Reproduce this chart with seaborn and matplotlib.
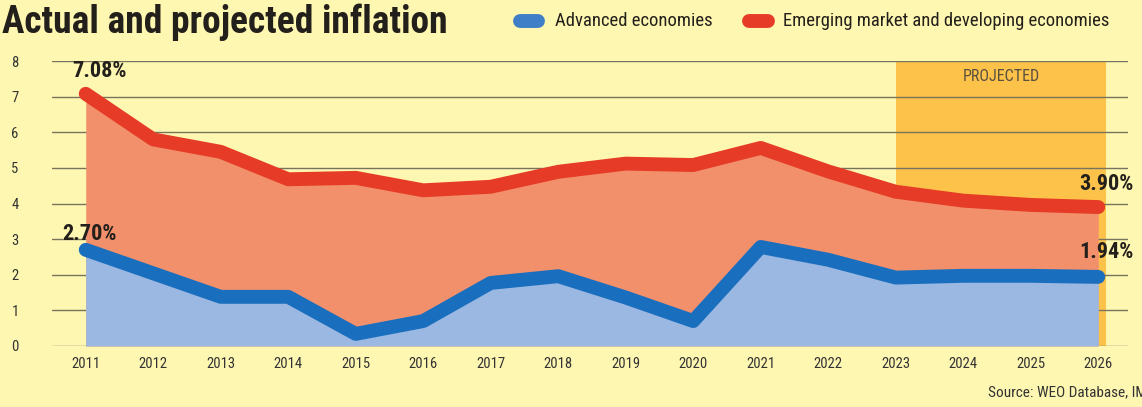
import matplotlib
matplotlib.use("Agg")
import matplotlib.pyplot as plt
import matplotlib.font_manager as fm
from matplotlib.lines import Line2D
import seaborn as sns
import pandas as pd

years = [2011, 2012, 2013, 2014, 2015, 2016, 2017, 2018, 2019, 2020,
         2021, 2022, 2023, 2024, 2025, 2026]
emde = [7.08, 5.80, 5.45, 4.68, 4.72, 4.37, 4.47, 4.89, 5.12, 5.08,
        5.56, 4.90, 4.33, 4.08, 3.96, 3.90]
advanced = [2.70, 2.04, 1.38, 1.38, 0.34, 0.70, 1.77, 1.96, 1.36, 0.70,
            2.78, 2.42, 1.92, 1.97, 1.97, 1.94]
yticks = [0, 1, 2, 3, 4, 5, 6, 7, 8]
projected_start = 2023

# find a condensed font if available
def find_font(bold):
    prefs = ["Roboto Condensed", "Open Sans Condensed", "Liberation Sans Narrow",
             "Noto Sans Condensed", "DejaVu Sans"]
    fl = fm.fontManager.ttflist
    for p in prefs:
        for f in fl:
            isbold = (f.weight in ("bold", 700, "heavy", 800, 900)) or (isinstance(f.weight, int) and f.weight >= 700)
            condensed = f.stretch in ("condensed", "semi-condensed", "extra-condensed") or \
                "Condensed" in f.name or "Narrow" in f.name
            if f.name == p and isbold == bold and condensed and f.style == "normal":
                return fm.FontProperties(fname=f.fname)
    return fm.FontProperties(family="DejaVu Sans", weight="bold" if bold else "normal")

FP_REG = find_font(False)
FP_BOLD = find_font(True)

sns.set_theme(style="white")
plt.rcParams["font.family"] = ["DejaVu Sans"]

BG = "#FEF7B2"
DARK = "#231f1a"
df = pd.DataFrame({"year": years, "Advanced economies": advanced,
                   "Emerging market and developing economies": emde})

fig = plt.figure(figsize=(11.42, 4.07), dpi=100, facecolor=BG)
ax = fig.add_axes([0.0455, 0.1499, 0.9422, 0.7002])
ax.set_facecolor(BG)

ax.set_xlim(2010.5, 2026.44)
ax.set_ylim(0, 8)
for y in yticks:
    ax.axhline(y, color="#77735c", lw=1.0, zorder=1)

ax.axvspan(projected_start, years[-1] + 0.12, color="#FCC24A", zorder=0.5, lw=0)
ax.text((projected_start + years[-1] + 0.12) / 2, 7.57, "PROJECTED", ha="center", va="center",
        fontproperties=FP_REG, fontsize=11.5, color="#5a5040")

ax.fill_between(df["year"], 0, df["Emerging market and developing economies"],
                color="#F2906C", zorder=2, lw=0)
ax.fill_between(df["year"], 0, df["Advanced economies"], color="#9AB8E2", zorder=3, lw=0)

sns.lineplot(data=df, x="year", y="Emerging market and developing economies", ax=ax,
             color="#E63B26", lw=10, solid_capstyle="round", solid_joinstyle="round", zorder=4)
sns.lineplot(data=df, x="year", y="Advanced economies", ax=ax,
             color="#1A6EBE", lw=10, solid_capstyle="round", solid_joinstyle="round", zorder=5)

ax.set_xticks(years)
ax.set_xticklabels([str(y) for y in years])
ax.set_yticks(yticks)
ax.set_yticklabels([str(y) for y in yticks])
for t in ax.get_xticklabels() + ax.get_yticklabels():
    t.set_fontproperties(FP_REG)
    t.set_fontsize(10.5)
    t.set_color("#333333")
ax.tick_params(axis="both", length=0)
ax.tick_params(axis="x", pad=8)
ax.tick_params(axis="y", pad=24)
ax.set_xlabel("")
ax.set_ylabel("")
for s in ax.spines.values():
    s.set_visible(False)
ax.grid(False)

lab = dict(fontproperties=FP_BOLD, fontsize=16, color=DARK, zorder=6)
ax.text(years[0] - 0.2, emde[0] + 0.64, f"{emde[0]:.2f}%", ha="left", va="center", **lab)
ax.text(years[0] - 0.35, advanced[0] + 0.45, f"{advanced[0]:.2f}%", ha="left", va="center", **lab)
ax.text(years[-1] + 0.52, emde[-1] + 0.65, f"{emde[-1]:.2f}%", ha="right", va="center", **lab)
ax.text(years[-1] + 0.52, advanced[-1] + 0.7, f"{advanced[-1]:.2f}%", ha="right", va="center", **lab)

fig.text(0.002, 0.945, "Actual and projected inflation", fontproperties=FP_BOLD, fontsize=27,
         color=DARK, ha="left", va="center")

fig.add_artist(Line2D([0.4553, 0.4711], [0.948, 0.948], transform=fig.transFigure,
                      color="#3F7FC8", lw=10, solid_capstyle="round"))
fig.text(0.486, 0.948, "Advanced economies", fontproperties=FP_REG, fontsize=13.4,
         color=DARK, va="center")
fig.add_artist(Line2D([0.6559, 0.6725], [0.948, 0.948], transform=fig.transFigure,
                      color="#E63B26", lw=10, solid_capstyle="round"))
fig.text(0.6856, 0.948, "Emerging market and developing economies", fontproperties=FP_REG,
         fontsize=13.4, color=DARK, va="center")

fig.text(0.865, 0.035, "Source: WEO Database, IMF", fontproperties=FP_REG, fontsize=11,
         color="#333333", ha="left", va="center")

fig.savefig("out.png", dpi=100, facecolor=BG)
